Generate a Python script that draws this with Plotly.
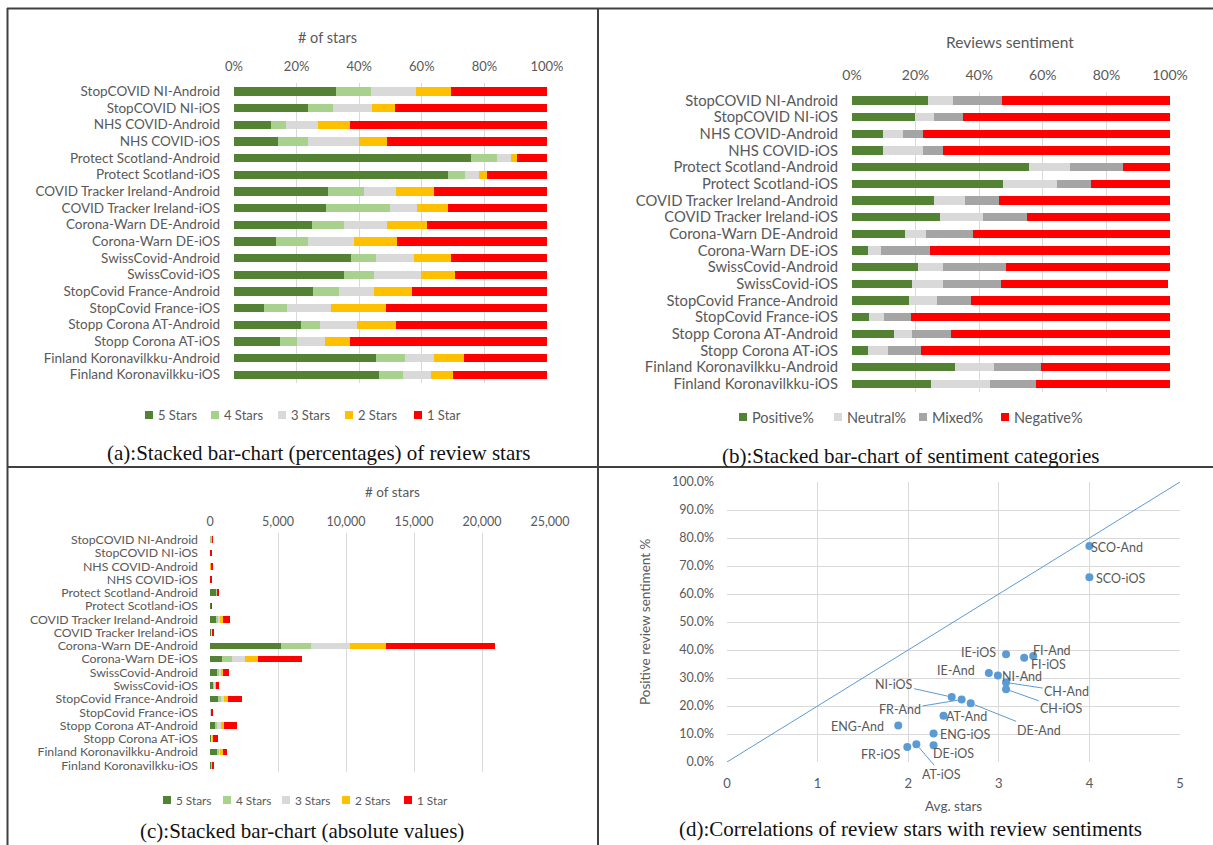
import plotly.graph_objects as go

# ---------------- data ----------------
apps = ["StopCOVID NI-Android", "StopCOVID NI-iOS", "NHS COVID-Android", "NHS COVID-iOS",
        "Protect Scotland-Android", "Protect Scotland-iOS", "COVID Tracker Ireland-Android",
        "COVID Tracker Ireland-iOS", "Corona-Warn DE-Android", "Corona-Warn DE-iOS",
        "SwissCovid-Android", "SwissCovid-iOS", "StopCovid France-Android", "StopCovid France-iOS",
        "Stopp Corona AT-Android", "Stopp Corona AT-iOS", "Finland Koronavilkku-Android",
        "Finland Koronavilkku-iOS"]

star_labels = ["5 Stars", "4 Stars", "3 Stars", "2 Stars", "1 Star"]

# (a) percentages of review stars
pct_5 = [32.7, 23.7, 11.9, 14.1, 75.6, 68.3, 30.1, 29.5, 25.0, 13.3, 37.5, 35.3, 25.3, 9.5, 21.5, 14.8, 45.5, 46.3]
pct_4 = [11.2, 8.0, 4.7, 9.6, 8.5, 5.5, 11.5, 20.3, 10.3, 10.4, 8.0, 9.5, 8.4, 7.4, 6.0, 5.3, 9.2, 7.7]
pct_3 = [14.1, 12.5, 10.2, 16.1, 4.4, 4.4, 10.3, 8.6, 13.7, 14.7, 12.1, 15.1, 10.9, 14.2, 11.9, 9.0, 9.3, 8.8]
pct_2 = [11.3, 7.3, 10.4, 9.2, 1.8, 2.6, 11.9, 9.9, 12.8, 13.7, 11.7, 10.8, 12.4, 17.6, 12.5, 8.1, 9.4, 7.3]
pct_1 = [30.7, 48.5, 62.8, 51.0, 9.7, 19.2, 36.2, 31.7, 38.2, 47.9, 30.7, 29.3, 43.0, 51.3, 48.1, 62.8, 26.6, 29.9]
pct_ticks = [0, 20, 40, 60, 80, 100]
pct_tick_text = ["0%", "20%", "40%", "60%", "80%", "100%"]

# (b) sentiment categories
sent_labels = ["Positive%", "Neutral%", "Mixed%", "Negative%"]
positive = [23.8, 19.7, 9.7, 9.7, 55.6, 47.4, 25.7, 27.7, 16.8, 5.1, 20.7, 19.0, 17.8, 5.5, 13.1, 5.0, 32.5, 24.8]
neutral = [7.9, 6.0, 6.4, 12.7, 12.8, 17.2, 9.7, 13.6, 6.5, 4.0, 8.0, 9.7, 8.9, 4.5, 5.7, 6.2, 12.1, 18.6]
mixed = [15.6, 9.3, 6.2, 6.3, 16.9, 10.6, 10.9, 13.6, 14.8, 15.5, 19.6, 18.0, 10.7, 8.6, 12.2, 10.6, 14.7, 14.6]
negative = [52.7, 65.0, 77.7, 71.3, 14.7, 24.8, 53.7, 45.1, 61.9, 75.4, 51.7, 52.8, 62.6, 81.4, 69.0, 78.2, 40.7, 42.0]

# (c) absolute number of stars
abs_5 = [72, 26, 26, 11, 469, 96, 439, 83, 5245, 900, 518, 238, 597, 24, 430, 92, 573, 104]
abs_4 = [25, 9, 10, 8, 53, 8, 168, 57, 2161, 704, 110, 64, 198, 19, 120, 33, 116, 17]
abs_3 = [31, 14, 22, 13, 27, 6, 150, 24, 2874, 995, 167, 102, 257, 35, 238, 56, 117, 20]
abs_2 = [25, 8, 23, 7, 11, 4, 174, 28, 2685, 927, 161, 73, 293, 44, 250, 50, 118, 16]
abs_1 = [67, 53, 139, 41, 60, 26, 529, 88, 8015, 3244, 424, 198, 1015, 128, 962, 389, 336, 68]
abs_ticks = [0, 5000, 10000, 15000, 20000, 25000]

# (d) correlation of stars with sentiment
codes = ["SCO-And", "SCO-iOS", "IE-iOS", "FI-And", "FI-iOS", "IE-And", "NI-And", "CH-And", "CH-iOS",
         "NI-iOS", "FR-And", "DE-And", "AT-And", "ENG-And", "ENG-iOS", "FR-iOS", "AT-iOS", "DE-iOS"]
avg_stars = [4.0, 4.0, 3.08, 3.38, 3.28, 2.89, 2.99, 3.08, 3.08, 2.48, 2.59, 2.69, 2.39, 1.89, 2.28, 1.99, 2.09, 2.28]
pos_sentiment = [77.1, 66.0, 38.5, 37.9, 37.2, 31.8, 30.9, 28.4, 26.0, 23.2, 22.3, 21.0, 16.5, 13.0, 10.2, 5.4, 6.3, 6.0]
ref_line_x = [0, 5]
ref_line_y = [0, 100]

# ---------------- styling / layout helpers ----------------
W, H = 1213, 845
GREY_TXT = "#595959"
GRID = "#D9D9D9"
FONT = "Lato, Carlito, 'Liberation Sans', sans-serif"
SERIF = "'Liberation Serif', 'DejaVu Serif', serif"
star_colors = ["#548235", "#A9D18E", "#D9D9D9", "#FFC000", "#FF0000"]
sent_colors = ["#548235", "#D9D9D9", "#A5A5A5", "#FF0000"]
BLUE = "#5B9BD5"

# label placements for panel (d): (label x, label y, leader line?)
label_pos = {
    "SCO-And": (4.31, 76.7, False), "SCO-iOS": (4.34, 65.5, False),
    "IE-iOS": (2.78, 39.2, False), "FI-And": (3.59, 39.8, False),
    "FI-iOS": (3.55, 35.0, False), "IE-And": (2.53, 32.7, False),
    "NI-And": (3.26, 30.5, False), "CH-And": (3.75, 25.1, True),
    "CH-iOS": (3.69, 19.0, True), "NI-iOS": (1.84, 27.8, True),
    "FR-And": (1.91, 18.7, True), "DE-And": (3.44, 11.3, True),
    "AT-And": (2.64, 16.1, False), "ENG-And": (1.44, 12.8, False),
    "ENG-iOS": (2.63, 9.7, False), "FR-iOS": (1.69, 2.6, False),
    "AT-iOS": (2.37, -4.3, True), "DE-iOS": (2.50, 3.2, False),
}

# custom legend placements (pixel x of each swatch, pixel y of the row)
legend_a = dict(xs=[149, 215, 282, 349, 418], y=415, size=13)
legend_b = dict(xs=[743, 838, 923, 1005], y=417, size=14.5)
legend_c = dict(xs=[167, 227, 286, 346, 408], y=800, size=11.8)


def xd(a, b):
    return [a / W, b / W]


def yd(top, bottom):
    return [1 - bottom / H, 1 - top / H]


def px(x):
    return x / W


def py(y):
    return 1 - y / H


fig = go.Figure()

# (a)
for vals, name, col in zip([pct_5, pct_4, pct_3, pct_2, pct_1], star_labels, star_colors):
    fig.add_trace(go.Bar(x=vals, y=apps, orientation="h", name=name,
                         marker=dict(color=col, line=dict(width=0)),
                         xaxis="x", yaxis="y"))
# (b)
for vals, name, col in zip([positive, neutral, mixed, negative], sent_labels, sent_colors):
    fig.add_trace(go.Bar(x=vals, y=apps, orientation="h", name=name,
                         marker=dict(color=col, line=dict(width=0)),
                         xaxis="x2", yaxis="y2"))
# (c)
for vals, name, col in zip([abs_5, abs_4, abs_3, abs_2, abs_1], star_labels, star_colors):
    fig.add_trace(go.Bar(x=vals, y=apps, orientation="h", name=name,
                         marker=dict(color=col, line=dict(width=0)),
                         xaxis="x3", yaxis="y3"))
# (d)
fig.add_trace(go.Scatter(x=ref_line_x, y=ref_line_y, mode="lines",
                         line=dict(color=BLUE, width=1), xaxis="x4", yaxis="y4"))
fig.add_trace(go.Scatter(x=avg_stars, y=pos_sentiment, mode="markers",
                         marker=dict(color=BLUE, size=8), xaxis="x4", yaxis="y4"))


def tick_font(s):
    return dict(family=FONT, size=s, color=GREY_TXT)


common_x = dict(showgrid=True, gridcolor=GRID, gridwidth=1, zeroline=False, showline=False,
                ticks="", fixedrange=True, automargin=False)
common_ycat = dict(type="category", autorange="reversed", showgrid=False, zeroline=False,
                   showline=False, ticks="", tickmode="linear", tick0=0, dtick=1,
                   automargin=False)

fig.update_layout(
    width=W, height=H, autosize=False,
    margin=dict(l=0, r=0, t=0, b=0, autoexpand=False),
    paper_bgcolor="white", plot_bgcolor="white",
    barmode="stack", bargap=0.5, showlegend=False,
    font=dict(family=FONT, color=GREY_TXT),
    xaxis=dict(domain=xd(234, 547), anchor="y", side="top", range=[0, 100],
               tickmode="array", tickvals=pct_ticks, ticktext=pct_tick_text,
               tickfont=tick_font(13), ticklabelstandoff=8, **common_x),
    yaxis=dict(domain=yd(83, 383), anchor="x", tickfont=tick_font(13.5),
               ticklabelstandoff=13, **common_ycat),
    xaxis2=dict(domain=xd(852, 1170), anchor="y2", side="top", range=[0, 100],
                tickmode="array", tickvals=pct_ticks, ticktext=pct_tick_text,
                tickfont=tick_font(14), ticklabelstandoff=8, **common_x),
    yaxis2=dict(domain=yd(92, 392), anchor="x2", tickfont=tick_font(14.8),
                ticklabelstandoff=13, **common_ycat),
    xaxis3=dict(domain=xd(210, 550), anchor="y3", side="top", range=[0, 25000],
                tickmode="array", tickvals=abs_ticks,
                tickformat=",d", tickfont=tick_font(12.5), ticklabelstandoff=4, **common_x),
    yaxis3=dict(domain=yd(533, 772), anchor="x3", tickfont=tick_font(12.3),
                ticklabelstandoff=11, **common_ycat),
    xaxis4=dict(domain=xd(727, 1180), anchor="y4", range=[0, 5], dtick=1,
                tickfont=tick_font(13), ticklabelstandoff=12, **common_x),
    yaxis4=dict(domain=yd(482, 762), anchor="x4", range=[0, 100], dtick=10,
                tickformat=".1f", ticksuffix="%", tickfont=tick_font(12.5),
                ticklabelstandoff=12, showgrid=True, gridcolor=GRID, zeroline=False,
                showline=False, ticks="", automargin=False),
)

annotations = []
shapes = []


def paper_text(x, y, text, size, family=FONT, color=GREY_TXT, angle=0, xanchor="center"):
    annotations.append(dict(x=px(x), y=py(y), xref="paper", yref="paper", text=text,
                            showarrow=False, xanchor=xanchor, yanchor="middle",
                            textangle=angle,
                            font=dict(family=family, size=size, color=color)))


def add_legend(labels, colors, spec):
    for lab, col, x in zip(labels, colors, spec["xs"]):
        shapes.append(dict(type="rect", xref="paper", yref="paper",
                           x0=px(x - 4), x1=px(x + 4), y0=py(spec["y"] + 4), y1=py(spec["y"] - 4),
                           fillcolor=col, line=dict(width=0)))
        paper_text(x + 7, spec["y"], lab, spec["size"], xanchor="left")


add_legend(star_labels, star_colors, legend_a)
add_legend(sent_labels, sent_colors, legend_b)
add_legend(star_labels, star_colors, legend_c)

# chart titles
paper_text(327, 38, "# of stars", 14.5)
paper_text(1010, 42, "Reviews sentiment", 15.5)
paper_text(392, 492, "# of stars", 13.5)
# axis titles for (d)
paper_text(645, 622, "Positive review sentiment %", 13.5, angle=-90)
paper_text(953, 806, "Avg. stars", 13.5)
# captions
CAP = "#111111"
paper_text(318, 453, "(a):Stacked bar-chart (percentages) of review stars", 21, family=SERIF, color=CAP)
paper_text(910, 456, "(b):Stacked bar-chart of sentiment categories", 21, family=SERIF, color=CAP)
paper_text(302, 831, "(c):Stacked bar-chart (absolute values)", 21, family=SERIF, color=CAP)
paper_text(910, 829, "(d):Correlations of review stars with review sentiments", 21, family=SERIF, color=CAP)

# scatter labels
for code, x, y in zip(codes, avg_stars, pos_sentiment):
    lx, ly, leader = label_pos[code]
    if leader:
        annotations.append(dict(x=x, y=y, xref="x4", yref="y4", ax=lx, ay=ly,
                                axref="x4", ayref="y4", text=code, showarrow=True,
                                arrowhead=0, arrowwidth=1, arrowcolor=BLUE, standoff=4,
                                font=dict(family=FONT, size=12.5, color=GREY_TXT)))
    else:
        annotations.append(dict(x=lx, y=ly, xref="x4", yref="y4", text=code,
                                showarrow=False,
                                font=dict(family=FONT, size=12.5, color=GREY_TXT)))

# panel borders
border = dict(color="#404040", width=2)
shapes += [
    dict(type="line", xref="paper", yref="paper", x0=px(7), x1=1, y0=py(8.5), y1=py(8.5), line=border),
    dict(type="line", xref="paper", yref="paper", x0=px(7.5), x1=px(7.5), y0=py(8), y1=0, line=border),
    dict(type="line", xref="paper", yref="paper", x0=px(598), x1=px(598), y0=py(8), y1=0, line=border),
    dict(type="line", xref="paper", yref="paper", x0=px(7), x1=1, y0=py(467), y1=py(467), line=border),
]

fig.update_layout(annotations=annotations, shapes=shapes)

# remove the default page margin so the figure sits at the window's top-left corner
fig.write_html("out.html", config={"displayModeBar": False},
               post_script="document.body.style.margin='0';document.body.style.overflow='hidden';")
